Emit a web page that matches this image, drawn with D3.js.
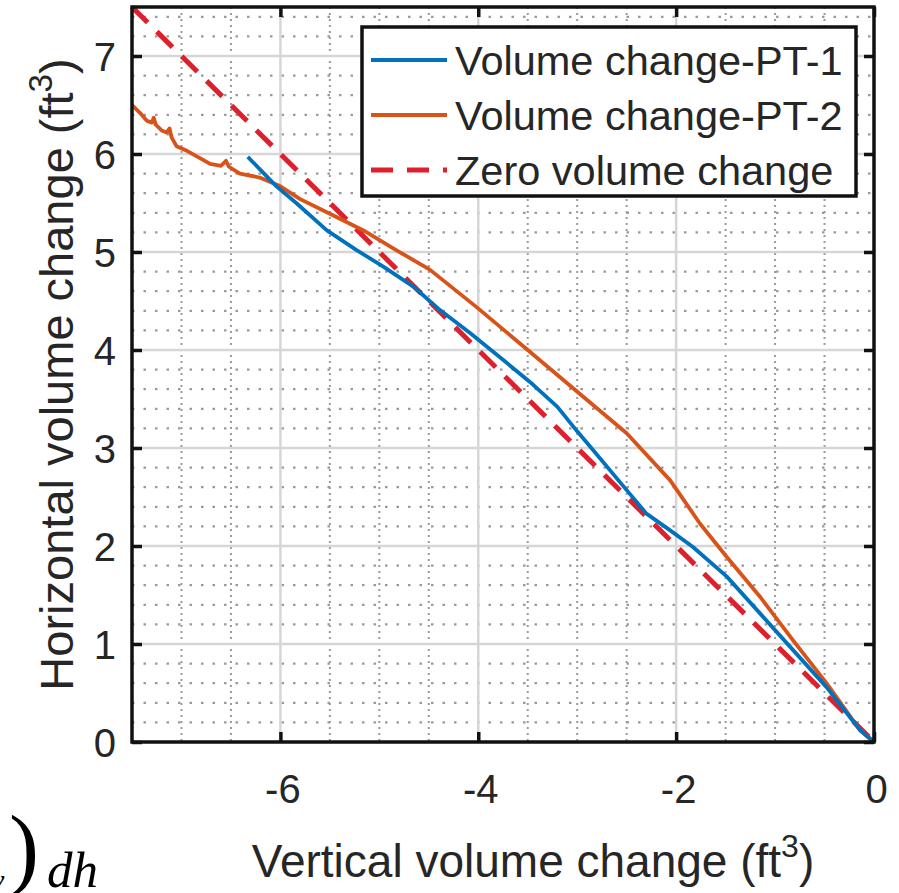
<!DOCTYPE html>
<html>
<head>
<meta charset="utf-8">
<script src="https://cdn.jsdelivr.net/npm/d3@7"></script>
<style>
  html, body { margin: 0; padding: 0; background: #fff; }
  svg { display: block; }
  text { fill: #262626; }
</style>
</head>
<body>
<svg id="chart" width="899" height="893" font-family="'Liberation Sans', Arial, sans-serif"></svg>
<script>
// ---- data ----
const xTicks = [-6, -4, -2, 0];
const yTicks = [0, 1, 2, 3, 4, 5, 6, 7];
const xMinorGrid = [-7, -6.5, -5.5, -5, -4.5, -3.5, -3, -2.5, -1.5, -1, -0.5];
const yMinorGrid = d3.range(0, 7.5, 0.2).filter(v => Math.abs(v - Math.round(v)) > 0.01);
const xMajorGrid = [-6, -4, -2];
const yMajorGrid = [1, 2, 3, 4, 5, 6, 7];

const seriesNames = ["Volume change-PT-1", "Volume change-PT-2", "Zero volume change"];

const pt1X = [-6.33, -6.04, -5.84, -5.53, -5.23, -4.96, -4.66, -4.39, -4.08, -3.75, -3.45, -3.2, -3.0, -2.84, -2.5, -2.3, -2.06, -1.83, -1.49, -1.15, -0.82, -0.48, -0.14, 0];
const pt1Y = [5.97, 5.67, 5.5, 5.22, 5.02, 4.85, 4.65, 4.41, 4.17, 3.9, 3.65, 3.42, 3.17, 2.98, 2.57, 2.33, 2.16, 1.99, 1.69, 1.31, 0.94, 0.56, 0.12, 0];

const pt2X = [-7.5, -7.42, -7.35, -7.3, -7.28, -7.26, -7.2, -7.15, -7.12, -7.1, -7.05, -6.94, -6.8, -6.71, -6.6, -6.55, -6.52, -6.41, -6.21, -6.0, -5.8, -5.5, -5.16, -4.83, -4.49, -4.02, -3.5, -2.9, -2.5, -2.06, -1.76, -1.49, -1.15, -0.82, -0.48, -0.14, 0];
const pt2Y = [6.5, 6.42, 6.34, 6.32, 6.37, 6.3, 6.24, 6.22, 6.26, 6.17, 6.08, 6.03, 5.95, 5.9, 5.88, 5.93, 5.87, 5.8, 5.76, 5.67, 5.54, 5.39, 5.22, 5.02, 4.82, 4.44, 4.0, 3.49, 3.15, 2.67, 2.23, 1.89, 1.48, 1.04, 0.6, 0.12, 0];

const zeroX = [-7.5, 0];
const zeroY = [7.5, 0];

// ---- layout ----
const svg = d3.select("#chart");
const L = 132, R = 874, T = 7, B = 742;
const x = d3.scaleLinear().domain([-7.5, 0]).range([L, R]);
const y = d3.scaleLinear().domain([0, 7.5]).range([B, T]);

const colors = { pt1: "#0072BD", pt2: "#D95319", zero: "#DE1F2C" };
const SANS = "'Liberation Sans', Arial, sans-serif";
const SERIF = "'Liberation Serif', 'DejaVu Serif', serif";

// grid
const grid = svg.append("g");
grid.selectAll(".ymin").data(yMinorGrid).join("line")
  .attr("x1", L).attr("x2", R).attr("y1", d => y(d)).attr("y2", d => y(d))
  .attr("stroke", "#9a9a9a").attr("stroke-width", 2.2).attr("stroke-dasharray", "2.5,9");
grid.selectAll(".xmin").data(xMinorGrid).join("line")
  .attr("x1", d => x(d)).attr("x2", d => x(d)).attr("y1", T).attr("y2", B)
  .attr("stroke", "#9a9a9a").attr("stroke-width", 2).attr("stroke-dasharray", "2,4");
grid.selectAll(".ymaj").data(yMajorGrid).join("line")
  .attr("x1", L).attr("x2", R).attr("y1", d => y(d)).attr("y2", d => y(d))
  .attr("stroke", "#d6d6d6").attr("stroke-width", 2.5);
grid.selectAll(".xmaj").data(xMajorGrid).join("line")
  .attr("x1", d => x(d)).attr("x2", d => x(d)).attr("y1", T).attr("y2", B)
  .attr("stroke", "#d6d6d6").attr("stroke-width", 2.5);

// series
const line = d3.line().x(d => x(d[0])).y(d => y(d[1]));
svg.append("path").datum(d3.zip(zeroX, zeroY)).attr("d", line)
  .attr("fill", "none").attr("stroke", colors.zero).attr("stroke-width", 5)
  .attr("stroke-dasharray", "22,13");
svg.append("path").datum(d3.zip(pt2X, pt2Y)).attr("d", line)
  .attr("fill", "none").attr("stroke", colors.pt2).attr("stroke-width", 3.8)
  .attr("stroke-linejoin", "round");
svg.append("path").datum(d3.zip(pt1X, pt1Y)).attr("d", line)
  .attr("fill", "none").attr("stroke", colors.pt1).attr("stroke-width", 3.8)
  .attr("stroke-linejoin", "round");

// axes (inside ticks, mirrored)
const fmt = d => String(d);
const gx = svg.append("g").attr("transform", `translate(0,${B})`)
  .call(d3.axisBottom(x).tickValues(xTicks).tickSize(-10).tickPadding(33).tickFormat(fmt));
const gxt = svg.append("g").attr("transform", `translate(0,${T})`)
  .call(d3.axisTop(x).tickValues(xTicks).tickSize(-10).tickFormat(""));
const gy = svg.append("g").attr("transform", `translate(${L},0)`)
  .call(d3.axisLeft(y).tickValues(yTicks).tickSize(-10).tickPadding(16).tickFormat(fmt));
const gyr = svg.append("g").attr("transform", `translate(${R},0)`)
  .call(d3.axisRight(y).tickValues(yTicks).tickSize(-10).tickFormat(""));
[gx, gxt, gy, gyr].forEach(g => {
  g.attr("font-family", null).attr("font-size", null);
  g.select(".domain").remove();
  g.selectAll(".tick line").attr("stroke", "#111").attr("stroke-width", 3.5);
  g.selectAll(".tick text").style("font-size", "40px").style("fill", "#262626")
    .style("font-family", SANS);
});
gx.selectAll(".tick text").attr("dy", "0.71em").attr("y", 33).attr("dx", 2);
gy.selectAll(".tick text").attr("dy", "0.36em");

// box
svg.append("rect").attr("x", L).attr("y", T).attr("width", R - L).attr("height", B - T)
  .attr("fill", "none").attr("stroke", "#111").attr("stroke-width", 3.5);

// axis titles
const xt = svg.append("text").attr("x", 533).attr("y", 877)
  .attr("text-anchor", "middle").style("font-size", "46px").style("font-family", SANS);
xt.append("tspan").text("Vertical volume change (ft");
xt.append("tspan").text("3").style("font-size", "32px").attr("dy", -20);
xt.append("tspan").text(")").attr("dy", 20);

const yt = svg.append("text").attr("transform", `translate(73,${(T + B) / 2}) rotate(-90)`)
  .attr("text-anchor", "middle").style("font-size", "47px").style("font-family", SANS);
yt.append("tspan").text("Horizontal volume change (ft");
yt.append("tspan").text("3").style("font-size", "33px").attr("dy", -21);
yt.append("tspan").text(")").attr("dy", 21);

// legend
const lg = svg.append("g");
lg.append("rect").attr("x", 362).attr("y", 27).attr("width", 494).attr("height", 169)
  .attr("fill", "#fff").attr("stroke", "#111").attr("stroke-width", 3.5);
const legItems = [
  { name: seriesNames[0], color: colors.pt1, dash: null, w: 3.8 },
  { name: seriesNames[1], color: colors.pt2, dash: null, w: 3.8 },
  { name: seriesNames[2], color: colors.zero, dash: "22,14", w: 5 }
];
const rowY = [60, 115, 170];
legItems.forEach((it, i) => {
  lg.append("line").attr("x1", 371).attr("x2", 447).attr("y1", rowY[i]).attr("y2", rowY[i])
    .attr("stroke", it.color).attr("stroke-width", it.w)
    .attr("stroke-dasharray", it.dash);
  lg.append("text").attr("x", 455).attr("y", rowY[i] + 15)
    .style("font-size", "41.5px").style("font-family", SANS).text(it.name);
});

// fragment of equation visible at lower-left of the source image
const eq = svg.append("g");
eq.append("text").attr("x", 9).attr("y", 878)
  .style("font-size", "90px").style("font-family", SERIF).style("fill", "#000").text(")");
eq.append("text").attr("x", 47).attr("y", 887)
  .style("font-size", "51px").style("font-style", "italic").style("font-family", SERIF)
  .style("fill", "#000").text("dh");
eq.append("text").attr("x", -9).attr("y", 890)
  .style("font-size", "30px").style("font-style", "italic").style("font-family", SERIF)
  .style("fill", "#000").text("y");
</script>
</body>
</html>
